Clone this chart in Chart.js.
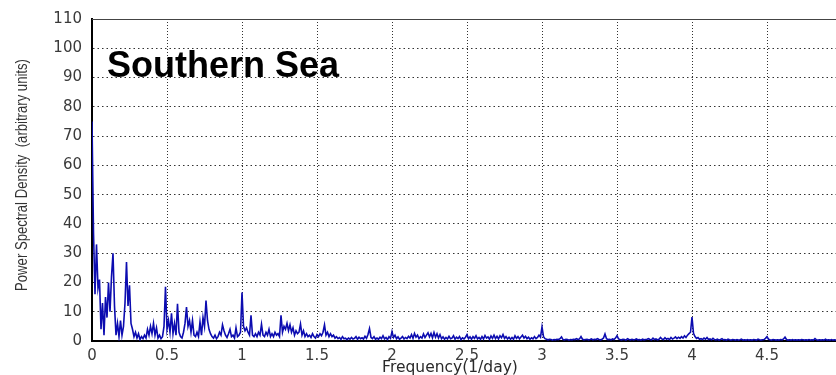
<!DOCTYPE html>
<html>
<head>
<meta charset="utf-8">
<script src="https://cdn.jsdelivr.net/npm/chart.js@4/dist/chart.umd.min.js"></script>
<style>
  html, body { margin: 0; padding: 0; background: #ffffff; }
  #wrap { width: 836px; height: 375px; }
</style>
</head>
<body>
<div id="wrap"><canvas id="psd" width="836" height="375"></canvas></div>
<script>
// Frequency resolution of the periodogram (cycles per day)
const freqStep = 0.01;

// Power spectral density, one value per frequency bin starting at 0 (arbitrary units)
const psdValues = [
  75, 37, 16, 33, 18, 21, 4, 13, 2, 15,           // 0.00
  8, 20, 10, 22, 30, 12, 2, 6, 1.5, 7,            // 0.10
  2, 5, 13, 27, 12, 19, 6, 4, 1.5, 3,             // 0.20
  1, 2.5, 0.5, 1.5, 0.8, 2, 1, 4, 2, 5,           // 0.30
  2.5, 6, 2, 4.5, 1, 2, 0.8, 1.5, 5, 18.5,        // 0.40
  4, 7, 3, 9.5, 2.5, 6, 2, 12.7, 3, 1.5,          // 0.50
  1, 3, 6, 11.6, 5, 7, 3, 7, 2, 1.5,              // 0.60
  3, 1.5, 6.5, 2, 8, 5, 13.8, 7, 4, 2.5,          // 0.70
  1.5, 1, 2, 0.8, 1.5, 3, 2, 5.5, 3.5, 2,         // 0.80
  1.2, 2.5, 4, 1.5, 2, 1, 4.5, 1.5, 2, 3,         // 0.90
  16.6, 5, 3.5, 4.5, 3, 2, 8.8, 2, 1.5, 2.5,      // 1.00
  1.5, 3, 2, 5.7, 2, 1.5, 3, 2, 4, 1.5,           // 1.10
  2.5, 1.5, 3, 2, 2.5, 1.5, 8.8, 3, 5, 4,         // 1.20
  6, 3.5, 5.5, 3, 4.5, 2, 3.5, 2.5, 3, 5.8,       // 1.30
  2, 3.5, 1.5, 2.5, 1.5, 2, 1.2, 2.5, 1.5, 1,     // 1.40
  2.2, 1.5, 2.5, 1.8, 3, 5.5, 2, 3, 1.5, 2.5,     // 1.50
  1.5, 2, 1, 1.5, 0.8, 1.2, 0.6, 1.5, 0.8, 1,     // 1.60
  0.5, 1, 0.6, 1.2, 0.7, 0.9, 1.5, 0.6, 1.3, 0.8, // 1.70
  1.1, 0.7, 1.6, 0.9, 2.2, 4.2, 1.2, 0.8, 1.5, 0.6, // 1.80
  1.0, 0.6, 1.3, 0.8, 1.8, 0.7, 1.2, 0.5, 1.5, 0.9, // 1.90
  3.2, 1.2, 2.0, 0.8, 1.4, 0.6, 1.0, 1.5, 0.7, 1.2, // 2.00
  0.8, 1.6, 1.0, 2.2, 0.9, 2.6, 1.3, 2.0, 0.8, 1.5, // 2.10
  1.0, 2.4, 1.2, 2.0, 2.8, 1.4, 2.6, 1.1, 2.9, 1.3, // 2.20
  2.5, 1.0, 2.2, 0.8, 1.4, 0.6, 1.2, 0.7, 1.6, 0.8, // 2.30
  1.0, 1.8, 0.6, 1.3, 0.8, 1.5, 0.5, 1.1, 0.7, 1.3, // 2.40
  2.2, 0.8, 1.4, 0.6, 1.5, 0.9, 1.8, 0.7, 1.2, 0.6, // 2.50
  1.5, 0.7, 1.9, 1.0, 1.4, 0.6, 1.7, 0.9, 2.0, 0.8, // 2.60
  1.6, 0.7, 1.8, 1.1, 2.2, 0.9, 1.5, 0.7, 1.3, 0.6, // 2.70
  1.2, 0.6, 1.8, 0.9, 1.5, 0.7, 1.4, 2.0, 1.0, 1.6, // 2.80
  0.8, 1.3, 0.6, 1.1, 0.7, 1.5, 0.8, 1.2, 2.0, 1.3, // 2.90
  4.8, 1.5, 0.8, 0.6, 0.4, 0.6, 0.5, 0.3, 0.5, 0.4, // 3.00
  0.6, 0.5, 0.8, 1.4, 0.5, 0.4, 0.6, 0.5, 0.3, 0.5, // 3.10
  0.4, 0.6, 0.5, 0.8, 0.5, 0.7, 1.5, 0.6, 0.4, 0.5, // 3.20
  0.6, 0.4, 0.5, 0.7, 0.4, 0.6, 0.5, 0.8, 0.5, 0.4, // 3.30
  0.6, 1.0, 2.4, 0.8, 0.5, 0.6, 0.4, 0.7, 0.5, 1.0, // 3.40
  1.8, 0.7, 0.5, 0.4, 0.6, 0.5, 0.3, 0.8, 0.5, 0.4, // 3.50
  0.6, 0.4, 0.5, 0.7, 0.4, 0.5, 0.3, 0.6, 0.4, 0.5, // 3.60
  0.6, 0.8, 0.5, 0.4, 1.0, 0.5, 0.7, 0.4, 0.6, 1.2, // 3.70
  0.7, 0.5, 1.1, 0.6, 0.9, 0.5, 1.2, 0.7, 1.0, 1.4, // 3.80
  0.8, 1.3, 0.9, 1.5, 1.0, 1.8, 1.2, 2.0, 2.5, 3.0, // 3.90
  8.2, 2.6, 1.5, 0.9, 1.2, 0.6, 0.8, 0.5, 1.0, 0.6, // 4.00
  1.2, 0.5, 0.7, 0.4, 0.9, 0.5, 0.4, 0.6, 0.3, 0.5, // 4.10
  0.8, 0.4, 0.5, 0.3, 0.6, 0.4, 0.3, 0.5, 0.4, 0.3, // 4.20
  0.5, 0.3, 0.4, 0.6, 0.3, 0.4, 0.3, 0.5, 0.3, 0.4, // 4.30
  0.3, 0.5, 0.4, 0.3, 0.6, 0.4, 0.3, 0.4, 0.5, 0.9, // 4.40
  1.5, 0.6, 0.4, 0.3, 0.5, 0.4, 0.3, 0.4, 0.3, 0.5, // 4.50
  0.4, 0.7, 1.3, 0.5, 0.3, 0.4, 0.3, 0.5, 0.3, 0.4, // 4.60
  0.3, 0.4, 0.3, 0.5, 0.4, 0.3, 0.4, 0.3, 0.5, 0.3, // 4.70
  0.4, 0.3, 0.8, 0.4, 0.3, 0.4, 0.3, 0.4, 0.3, 0.6, // 4.80
  0.3, 0.4, 0.3, 0.5, 0.3, 0.4, 0.3                 // 4.90
];

// Axis ticks
const xTicks = [0, 0.5, 1, 1.5, 2, 2.5, 3, 3.5, 4, 4.5];
const yTicks = [0, 10, 20, 30, 40, 50, 60, 70, 80, 90, 100, 110];

// Text
const panelLabel = 'Southern Sea';
const xTitle = 'Frequency(1/day)';
const yTitle = 'Power Spectral Density  (arbitrary units)';

const points = psdValues.map((v, i) => ({ x: +(i * freqStep).toFixed(2), y: v }));

const tickFont = { family: '"DejaVu Sans", sans-serif', size: 15 };
const tickColor = '#3a3a3a';

// Frame top line, axis titles and the panel label
const decorPlugin = {
  id: 'decor',
  afterDraw(chart) {
    const { ctx, chartArea } = chart;
    ctx.save();
    ctx.strokeStyle = '#444';
    ctx.lineWidth = 1;
    ctx.beginPath();
    ctx.moveTo(chartArea.left, chartArea.top + 0.5);
    ctx.lineTo(chartArea.right, chartArea.top + 0.5);
    ctx.stroke();

    // x-axis title
    ctx.fillStyle = '#2a2a2a';
    ctx.font = '15.5px "DejaVu Sans", sans-serif';
    ctx.textAlign = 'center';
    ctx.textBaseline = 'middle';
    ctx.fillText(xTitle, 450, 368);

    // y-axis title, condensed along its length
    ctx.save();
    ctx.translate(23, 175);
    ctx.rotate(-Math.PI / 2);
    ctx.scale(0.82, 1);
    ctx.fillStyle = '#333';
    ctx.font = '16px "Liberation Sans", Arial, sans-serif';
    ctx.fillText(yTitle, 0, 0);
    ctx.restore();

    // panel label
    ctx.fillStyle = '#000';
    ctx.font = 'bold 36px "Liberation Sans", Arial, sans-serif';
    ctx.textBaseline = 'alphabetic';
    ctx.textAlign = 'left';
    ctx.fillText(panelLabel, 107, 77);
    ctx.restore();
  }
};

new Chart(document.getElementById('psd'), {
  type: 'line',
  data: {
    datasets: [{
      data: points,
      borderColor: '#0c0cb0',
      borderWidth: 1.6,
      pointRadius: 0,
      tension: 0,
      fill: false
    }]
  },
  options: {
    responsive: false,
    animation: false,
    devicePixelRatio: 1,
    layout: { padding: { top: 15, right: 0, bottom: 0, left: 0 } },
    plugins: { legend: { display: false }, tooltip: { enabled: false } },
    scales: {
      x: {
        type: 'linear',
        min: 0,
        max: 4.96,
        afterBuildTicks: s => { s.ticks = xTicks.map(v => ({ value: v })); },
        afterFit: s => { s.height = 34; },
        ticks: {
          font: tickFont,
          color: tickColor,
          padding: 6,
          maxRotation: 0,
          autoSkip: false,
          callback: v => String(v)
        },
        grid: { color: '#333', lineWidth: 1, drawTicks: false },
        border: { display: true, color: '#000', width: 2, dash: [1, 2] },
        title: { display: false }
      },
      y: {
        min: 0,
        max: 110,
        afterBuildTicks: s => { s.ticks = yTicks.map(v => ({ value: v })); },
        afterFit: s => { s.width = 92; },
        ticks: {
          font: tickFont,
          color: tickColor,
          padding: 10,
          autoSkip: false
        },
        grid: { color: '#333', lineWidth: 1, drawTicks: false },
        border: { display: true, color: '#000', width: 2, dash: [1.5, 3] },
        title: { display: false }
      }
    }
  },
  plugins: [decorPlugin]
});
</script>
</body>
</html>
